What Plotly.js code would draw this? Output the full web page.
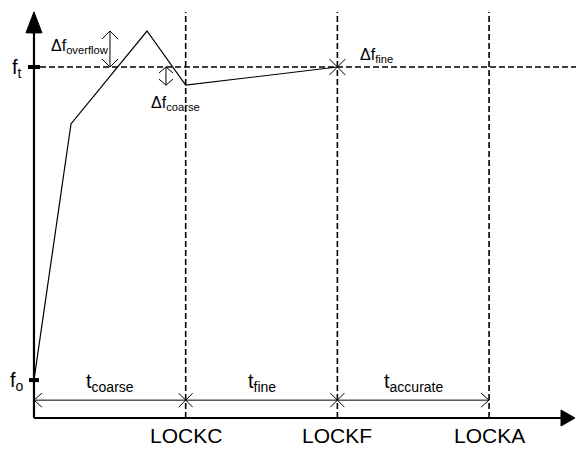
<!DOCTYPE html>
<html>
<head>
<meta charset="utf-8">
<script src="https://cdn.plot.ly/plotly-3.0.1.min.js"></script>
<style>
  html, body { margin: 0; padding: 0; background: #fff; }
  #chart { width: 576px; height: 449px; }
</style>
</head>
<body>
<div id="chart"></div>
<script>
// Frequenzverlauf: Zeit in Einheiten der Lock-Phasen, Frequenz normiert (f_o = 0, f_t = 1)
const curveTime = [0, 0.244, 0.745, 1, 2];
const curveFreq = [0, 0.818, 1.115, 0.942, 1];

const lockTimes = [1, 2, 3];
const lockLabels = ['LOCKC', 'LOCKF', 'LOCKA'];

const phaseMid = [0.5, 1.5, 2.5];
const phaseLabels = ['t<sub>coarse</sub>', 't<sub>fine</sub>', 't<sub>accurate</sub>'];

const fTarget = 1;
const fStart = 0;
const overflowPeak = 1.115;
const coarseLevel = 0.942;

// Achsenbereich
const X_RANGE = [-0.224, 3.573];
const Y_RANGE = [-0.220, 1.214];
const W = 576, H = 449;
const pxX = W / (X_RANGE[1] - X_RANGE[0]);
const pxY = H / (Y_RANGE[1] - Y_RANGE[0]);
const dx = p => p / pxX;
const dy = p => p / pxY;

const axisY = -0.121;          // Lage der Zeitachse
const axisTop = 1.109;          // Ende der Frequenzachse (Basis Pfeil)
const timeRow = -0.064;         // Zeile der Zeitpfeile
const font = 'Liberation Sans, Arial, sans-serif';

// Hilfsfunktionen für Linien mit null-Trennung
function addSeg(acc, xs, ys) {
    acc.x.push(...xs, null);
    acc.y.push(...ys, null);
}

function chevron(acc, x, y, dir, len, half) {
    if (dir === 'up') addSeg(acc, [x - dx(half), x, x + dx(half)], [y - dy(len), y, y - dy(len)]);
    if (dir === 'down') addSeg(acc, [x - dx(half), x, x + dx(half)], [y + dy(len), y, y + dy(len)]);
    if (dir === 'left') addSeg(acc, [x + dx(len), x, x + dx(len)], [y + dy(half), y, y - dy(half)]);
    if (dir === 'right') addSeg(acc, [x - dx(len), x, x - dx(len)], [y + dy(half), y, y - dy(half)]);
}

function cross(acc, x, y, r) {
    addSeg(acc, [x - dx(r), x + dx(r)], [y - dy(r), y + dy(r)]);
    addSeg(acc, [x - dx(r), x + dx(r)], [y + dy(r), y - dy(r)]);
}

// Dünne Hilfslinien (Pfeile, Kreuze)
const thin = { x: [], y: [] };
// Zeitpfeil-Zeile
addSeg(thin, [0, lockTimes[2]], [timeRow, timeRow]);
chevron(thin, 0, timeRow, 'left', 8, 7);
chevron(thin, lockTimes[2], timeRow, 'right', 8, 7);
cross(thin, lockTimes[0], timeRow, 7);
cross(thin, lockTimes[1], timeRow, 7);
// Kreuz bei f_t / LOCKF
cross(thin, lockTimes[1], fTarget, 8);
// Delta f overflow
const xOv = 0.501;
addSeg(thin, [xOv, xOv], [fTarget, overflowPeak]);
chevron(thin, xOv, overflowPeak, 'up', 8, 8);
chevron(thin, xOv, fTarget, 'down', 8, 8);
// Delta f coarse
const xCo = 0.870;
addSeg(thin, [xCo, xCo], [coarseLevel, fTarget]);
chevron(thin, xCo, fTarget, 'up', 6, 7);
chevron(thin, xCo, coarseLevel, 'down', 6, 7);

// Gestrichelte Linien
const dashed = { x: [], y: [] };
addSeg(dashed, [dx(6), X_RANGE[1]], [fTarget, fTarget]);
lockTimes.forEach(t => addSeg(dashed, [t, t], [axisY, axisTop + dy(21)]));

// Achsen
const axes = { x: [], y: [] };
addSeg(axes, [0, 0], [axisY, axisTop]);
addSeg(axes, [0, X_RANGE[1] - dx(14)], [axisY, axisY]);

const xEnd = X_RANGE[1] - dx(1);
const traces = [
    { x: dashed.x, y: dashed.y, mode: 'lines', line: { color: '#000', width: 1.6, dash: '6px,3px' } },
    { x: thin.x, y: thin.y, mode: 'lines', line: { color: '#000', width: 1 } },
    { x: curveTime, y: curveFreq, mode: 'lines', line: { color: '#000', width: 1.2 } },
    { x: axes.x, y: axes.y, mode: 'lines', line: { color: '#000', width: 2.2 } },
    // Pfeilspitzen der Achsen
    { x: [-dx(8), dx(8), 0, -dx(8)], y: [axisTop, axisTop, axisTop + dy(21), axisTop],
      mode: 'lines', fill: 'toself', fillcolor: '#000', line: { color: '#000', width: 1 } },
    { x: [xEnd - dx(14), xEnd - dx(14), xEnd, xEnd - dx(14)], y: [axisY + dy(8), axisY - dy(8), axisY, axisY + dy(8)],
      mode: 'lines', fill: 'toself', fillcolor: '#000', line: { color: '#000', width: 1 } },
    // Marken f_t und f_o
    { x: [-dx(6), dx(6), null, -dx(5), dx(5)], y: [fTarget, fTarget, null, fStart, fStart],
      mode: 'lines', line: { color: '#000', width: 4 } }
];

const annotations = [];
function label(text, x, y, size, opts) {
    annotations.push(Object.assign({
        text: text, x: x, y: y, xref: 'x', yref: 'y', showarrow: false,
        xanchor: 'center', yanchor: 'middle',
        font: { family: font, size: size, color: '#000' }
    }, opts || {}));
}

lockTimes.forEach((t, i) => label(lockLabels[i], t, -0.178, 21));
phaseMid.forEach((t, i) => label(phaseLabels[i], t, -0.008, 20));
label('f<sub>t</sub>', -0.112, fTarget - 0.006, 20);
label('f<sub>o</sub>', -0.112, fStart - 0.006, 20);
label('Δf<sub>overflow</sub>', 0.303, 1.066, 16);
label('Δf<sub>coarse</sub>', 0.936, 0.882, 16);
label('Δf<sub>fine</sub>', 2.261, 1.036, 16);

const layout = {
    width: W, height: H,
    margin: { l: 0, r: 0, t: 0, b: 0 },
    paper_bgcolor: '#fff',
    plot_bgcolor: '#fff',
    showlegend: false,
    xaxis: { range: X_RANGE, visible: false, fixedrange: true },
    yaxis: { range: Y_RANGE, visible: false, fixedrange: true },
    annotations: annotations
};

traces.forEach(t => { t.type = 'scatter'; t.hoverinfo = 'skip'; t.cliponaxis = false; });

Plotly.newPlot('chart', traces, layout, { displayModeBar: false, staticPlot: true });
</script>
</body>
</html>
